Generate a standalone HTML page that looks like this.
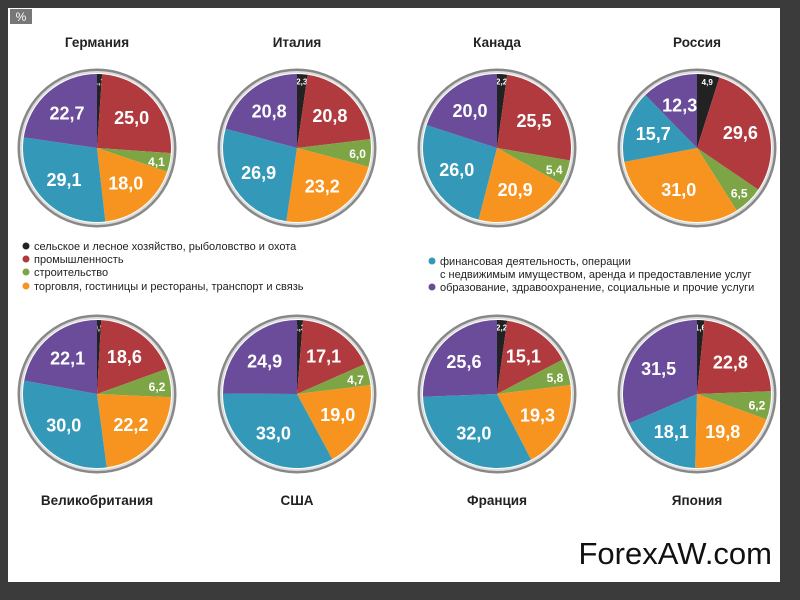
<!DOCTYPE html>
<html><head><meta charset="utf-8">
<style>
body{margin:0;width:800px;height:600px;background:#3b3b3b;overflow:hidden;font-family:"Liberation Sans",sans-serif}
#panel{position:absolute;left:8px;top:8px;width:772px;height:574px;background:#fff}
</style></head><body>
<div id="panel"></div>
<svg id="svg" width="800" height="600" style="position:absolute;left:0;top:0"></svg>
<script>
const countries=["Германия","Италия","Канада","Россия","Великобритания","США","Франция","Япония"];
const agriculture=[1.1,2.3,2.2,4.9,0.9,1.3,2.2,1.6];
const industry=[25.0,20.8,25.5,29.6,18.6,17.1,15.1,22.8];
const construction=[4.1,6.0,5.4,6.5,6.2,4.7,5.8,6.2];
const trade=[18.0,23.2,20.9,31.0,22.2,19.0,19.3,19.8];
const finance=[29.1,26.9,26.0,15.7,30.0,33.0,32.0,18.1];
const services=[22.7,20.8,20.0,12.3,22.1,24.9,25.6,31.5];
const seriesNames=["agriculture","industry","construction","trade","finance","services"];
const colors=["#222","#b13a3f","#7ea545","#f7941f","#3499b9","#6a4c9a"];
const legendLabels=["сельское и лесное хозяйство, рыболовство и охота","промышленность","строительство","торговля, гостиницы и рестораны, транспорт и связь","финансовая деятельность, операции","образование, здравоохранение, социальные и прочие услуги"];
const NS="http://www.w3.org/2000/svg";
const svg=document.getElementById('svg');
function mk(t,a,p){const e=document.createElementNS(NS,t);for(const k in a)e.setAttribute(k,a[k]);(p||svg).appendChild(e);return e;}
const fmt=v=>v.toFixed(1).replace('.',',');
let g=mk('g',{});


mk('rect',{x:10,y:9,width:22,height:15,fill:'#777'},g);
let t=mk('text',{x:21,y:21,'text-anchor':'middle','font-size':12,fill:'#fff'},g);t.textContent='%';
const R=74;
countries.forEach((c,i)=>{
  const cx=97+200*(i%4), cy=i<4?148:394;
  const grp=mk('g',{});
  
  
  const tt=mk('text',{x:cx,y:i<4?47:505,'text-anchor':'middle','font-size':13.5,'font-weight':'bold',fill:'#222'},grp);
  
  
  tt.textContent=c;
  mk('circle',{cx:cx,cy:cy,r:R+4,fill:'none',stroke:'#888','stroke-width':3},grp);
  mk('circle',{cx:cx,cy:cy,r:R+2,fill:'none',stroke:'#ddd','stroke-width':2},grp);
  const vals=[agriculture[i],industry[i],construction[i],trade[i],finance[i],services[i]];
  const tot=vals.reduce((a,b)=>a+b,0);
  let a0=0;
  vals.forEach((v,j)=>{
    const a1=a0+v/tot*2*Math.PI;
    const x0=cx+R*Math.sin(a0),y0=cy-R*Math.cos(a0),x1=cx+R*Math.sin(a1),y1=cy-R*Math.cos(a1);
    const p=mk('path',{d:`M${cx},${cy}L${x0},${y0}A${R},${R} 0 ${a1-a0>Math.PI?1:0} 1 ${x1},${y1}Z`,fill:colors[j]},grp);
    
    
    const am=(a0+a1)/2, rr=j==0?R*0.9:(j==2?R*0.82:R*0.62);
    const lb=mk('text',{x:cx+rr*Math.sin(am),y:cy-rr*Math.cos(am)+(j==0?3:6),'text-anchor':'middle','font-size':j==0?8:(j==2?12:18),'font-weight':'bold',fill:'#fff'},grp);
    
    
    lb.textContent=fmt(v);
    a0=a1;
  });
});
const legPos=[[22,250],[22,263],[22,276],[22,290],[428,265],[428,291]];
legendLabels.forEach((l,j)=>{
  const lg=mk('g',{});
  
  
  const [x,y]=legPos[j];
  mk('circle',{cx:x+4,cy:y-4,r:3.5,fill:colors[j]},lg);
  const tx=mk('text',{x:x+12,y:y,'font-size':11,fill:'#222'},lg);
  tx.textContent=l;
  if(j==4){const t2=mk('text',{x:x+12,y:y+13,'font-size':11,fill:'#222'},lg);t2.textContent='с недвижимым имуществом, аренда и предоставление услуг';}
});
const wm=mk('text',{x:772,y:564,'text-anchor':'end','font-size':31,fill:'#111','font-family':'Liberation Sans, sans-serif'});


wm.textContent='ForexAW.com';
</script>
</body></html>
